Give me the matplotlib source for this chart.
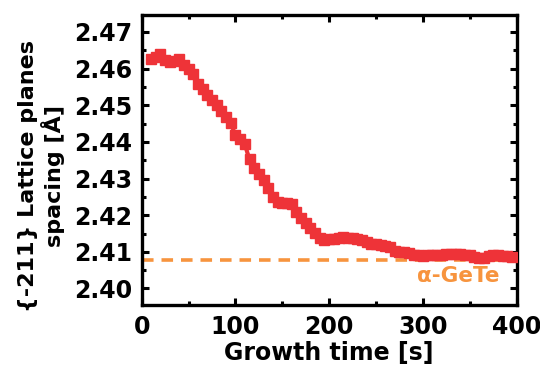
import matplotlib
matplotlib.use('Agg')
import matplotlib.pyplot as plt
import matplotlib.ticker as mticker

# Growth time [s]
tempo = [10, 15, 20, 25, 30, 35, 40, 45, 50, 55, 60, 65, 70, 75, 80, 85, 90, 95,
         100, 105, 110, 115, 120, 125, 130, 135, 140, 145, 150, 155, 160, 165, 170,
         175, 180, 185, 190, 195, 200, 205, 210, 215, 220, 225, 230, 235, 240, 245,
         250, 255, 260, 265, 270, 275, 280, 285, 290, 295, 300, 305, 310, 315, 320,
         325, 330, 335, 340, 345, 350, 355, 360, 365, 370, 375, 380, 385, 390, 395]

# {-211} lattice planes spacing [A]
espacamento = [2.4627, 2.4632, 2.4639, 2.4623, 2.4617, 2.4620, 2.4625, 2.4610, 2.4600,
               2.4585, 2.4558, 2.4543, 2.4528, 2.4514, 2.4500, 2.4484, 2.4468, 2.4451,
               2.4418, 2.4407, 2.4393, 2.4352, 2.4330, 2.4313, 2.4295, 2.4273, 2.4250,
               2.4236, 2.4233, 2.4232, 2.4230, 2.4208, 2.4192, 2.4178, 2.4165, 2.4152,
               2.4137, 2.4133, 2.4134, 2.4136, 2.4138, 2.4141, 2.4137, 2.4137, 2.4134,
               2.4132, 2.4127, 2.4122, 2.4120, 2.4118, 2.4116, 2.4113, 2.4102, 2.4100,
               2.4100, 2.4097, 2.4091, 2.4090, 2.4089, 2.4091, 2.4092, 2.4090, 2.4091,
               2.4093, 2.4094, 2.4095, 2.4093, 2.4092, 2.4090, 2.4086, 2.4083, 2.4084,
               2.4088, 2.4090, 2.4091, 2.4089, 2.4088, 2.4086]

# reference value for alpha-GeTe
ref_gete = 2.4077
ref_label = 'α-GeTe'

fonte = 'DejaVu Sans'
vermelho = '#EE3338'
laranja = '#F7943E'

fig = plt.figure(figsize=(5.4, 3.66), dpi=100)
ax = fig.add_axes([0.2624, 0.1667, 0.6944, 0.7923])

ax.plot(tempo, espacamento, color=vermelho, marker='s', markersize=7,
        linewidth=3, zorder=3)
ax.axhline(ref_gete, color=laranja, linestyle=(0, (3.2, 2.2)), linewidth=2.6, zorder=2)
ax.text(338, 2.4034, ref_label, color=laranja, fontsize=15.5, fontweight='bold',
        family=fonte, ha='center', va='center')

ax.set_xlim(0, 400)
ax.set_ylim(2.3955, 2.4746)
ax.xaxis.set_major_locator(mticker.MultipleLocator(100))
ax.xaxis.set_minor_locator(mticker.MultipleLocator(50))
ax.yaxis.set_major_locator(mticker.FixedLocator([2.40, 2.41, 2.42, 2.43, 2.44, 2.45, 2.46, 2.47]))
ax.yaxis.set_minor_locator(mticker.MultipleLocator(0.005))
ax.yaxis.set_major_formatter(mticker.FormatStrFormatter('%.2f'))

for s in ax.spines.values():
    s.set_linewidth(2.4)
ax.tick_params(which='both', direction='in', top=True, right=True, width=2.2)
ax.tick_params(which='major', length=5, pad=7)
ax.tick_params(which='minor', length=3)

for lbl in ax.get_xticklabels() + ax.get_yticklabels():
    lbl.set_fontsize(17)
    lbl.set_fontweight('bold')
    lbl.set_family(fonte)

ax.set_xlabel('Growth time [s]', fontsize=17, fontweight='bold', family=fonte, labelpad=2)
ax.set_ylabel('{-211} Lattice planes\nspacing [Å]', fontsize=16, fontweight='bold',
              family=fonte, labelpad=5, linespacing=1.15)
ax.yaxis.set_label_coords(-0.205, 0.445)

plt.savefig('out.png', dpi=100)
plt.close(fig)
